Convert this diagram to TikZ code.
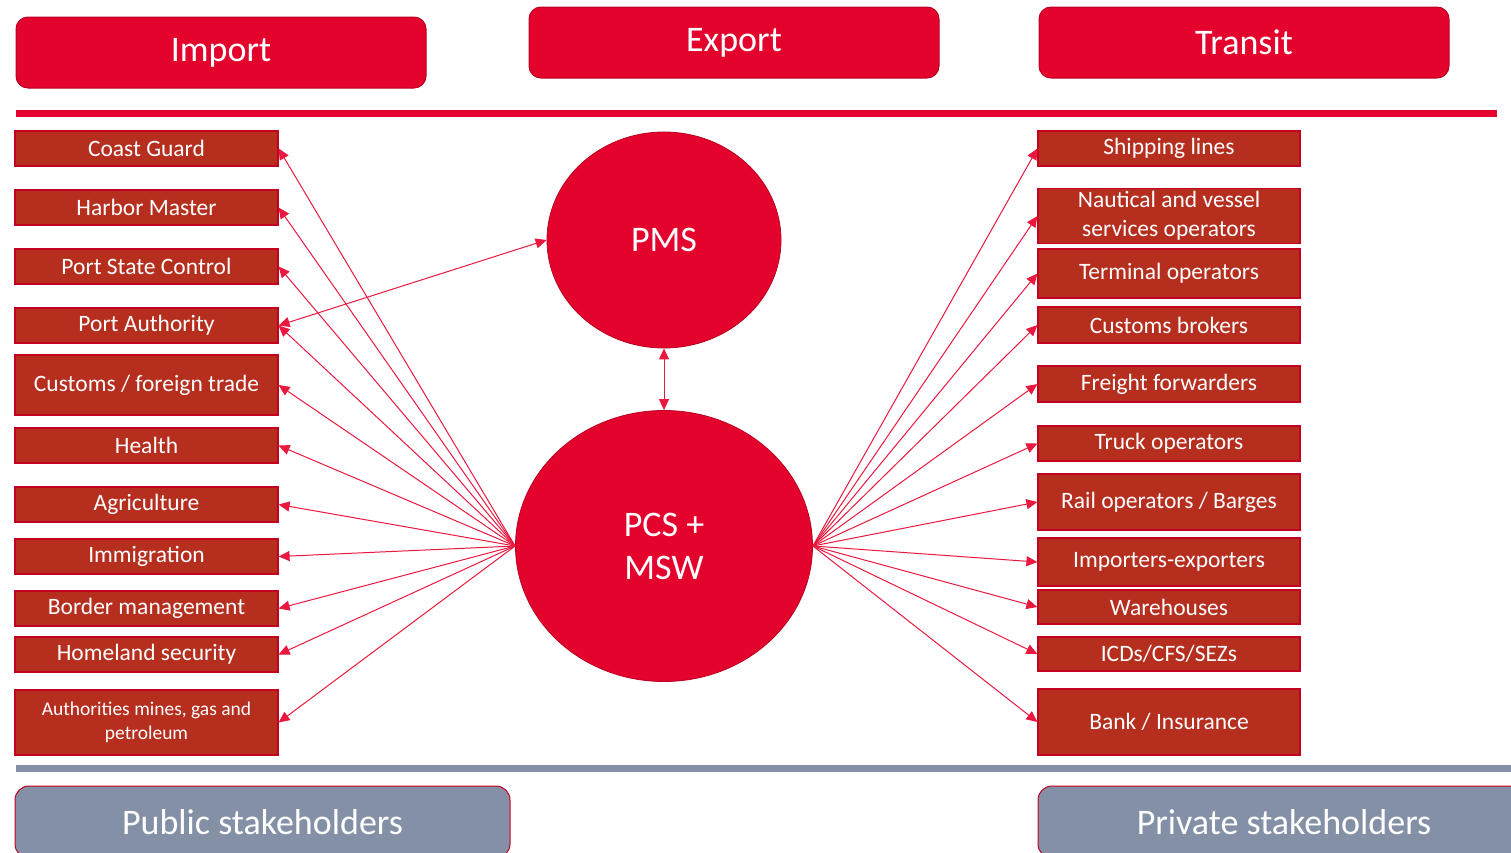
\documentclass[tikz,border=0pt]{standalone}
\usepackage{fontspec}
\setmainfont{Carlito}
\usetikzlibrary{arrows.meta, shapes.geometric}
\usepackage{xcolor}
\definecolor{hdrred}{RGB}{227,3,45}
\definecolor{hdrline}{RGB}{185,0,35}
\definecolor{boxfill}{RGB}{181,46,30}
\definecolor{boxline}{RGB}{195,0,32}
\definecolor{slate}{RGB}{132,144,166}
\definecolor{linkred}{RGB}{234,24,62}

\begin{document}
\begin{tikzpicture}[
  x=1pt, y=-1pt,
  header/.style={rectangle, draw=hdrline, line width=1pt, fill=hdrred, rounded corners=12pt, minimum width=410pt, minimum height=71pt, text=white, font=\fontsize{36}{43}\selectfont},
  stake/.style={rectangle, draw=boxline, line width=1pt, fill=slate, rounded corners=14pt, minimum height=72pt, text=white, font=\fontsize{36}{43}\selectfont},
  pubbox/.style={rectangle, draw=boxline, line width=1.2pt, fill=boxfill, minimum width=263pt, minimum height=35pt, text=white, align=center, font=\fontsize{23.5}{29}\selectfont},
  privbox/.style={pubbox, minimum width=262pt},
  hub/.style={ellipse, draw=hdrline, line width=0.8pt, fill=hdrred, text=white, align=center, font=\fontsize{36}{43}\selectfont},
  link/.style={draw=linkred, line width=1pt, -{Triangle[length=11pt,width=10pt]}},
  duplink/.style={link, {Triangle[length=11pt,width=10pt]}-{Triangle[length=11pt,width=10pt]}}
]
\useasboundingbox (0,0) rectangle (1511,852);

% Headers
\node[header] (import) at (221,52.5) {Import};
\node[header] (export) at (734,42.5) {Export};
\node[header] (transit) at (1244,42.5) {Transit};
\draw[hdrred, line width=7pt] (16,113) -- (1497,113);

% Hubs
\node[hub, minimum width=234pt, minimum height=216pt] (pms) at (664,240) {PMS};
\node[hub, minimum width=297pt, minimum height=271pt] (pcs) at (664,546) {PCS +\\MSW};

% Public side
\node[pubbox] (coast) at (146.5,148.5) {Coast Guard};
\node[pubbox] (harbor) at (146.5,207.5) {Harbor Master};
\node[pubbox] (psc) at (146.5,266.5) {Port State Control};
\node[pubbox] (authority) at (146.5,325.5) {Port Authority};
\node[pubbox, minimum height=60pt] (customs) at (146.5,385) {Customs / foreign trade};
\node[pubbox] (health) at (146.5,445.5) {Health};
\node[pubbox] (agri) at (146.5,504.5) {Agriculture};
\node[pubbox] (immig) at (146.5,556.5) {Immigration};
\node[pubbox] (border) at (146.5,608.5) {Border management};
\node[pubbox] (homeland) at (146.5,654.5) {Homeland security};
\node[pubbox, minimum height=65pt, font=\fontsize{19.5}{24}\selectfont] (mines) at (146.5,722.5) {Authorities mines, gas and\\petroleum};

% Private side
\node[privbox] (shipping) at (1169,148.5) {Shipping lines};
\node[privbox, minimum height=54pt] (nautical) at (1169,216) {Nautical and vessel\\services operators};
\node[privbox, minimum height=49pt] (terminal) at (1169,273.5) {Terminal operators};
\node[privbox, minimum height=36pt] (brokers) at (1169,325) {Customs brokers};
\node[privbox, minimum height=36pt] (freight) at (1169,384) {Freight forwarders};
\node[privbox] (truck) at (1169,443.5) {Truck operators};
\node[privbox, minimum height=56pt] (rail) at (1169,502) {Rail operators / Barges};
\node[privbox, minimum height=48pt] (impexp) at (1169,562) {Importers-exporters};
\node[privbox, minimum height=34pt] (warehouse) at (1169,607) {Warehouses};
\node[privbox, minimum height=34pt] (icd) at (1169,654) {ICDs/CFS/SEZs};
\node[privbox, minimum height=66pt] (bank) at (1169,722) {Bank / Insurance};

% Footer
\draw[slate, line width=7pt] (16,768) -- (1511,768);
\node[stake, minimum width=495pt] (public) at (262.5,822) {Public stakeholders};
\node[stake, minimum width=492pt] (private) at (1284,822) {Private stakeholders};

% Connections
\draw[duplink] (pms) -- (pcs);
\draw[duplink] (authority.east) -- (pms.west);
\draw[link] (pcs.west) -- (coast.east);
\draw[link] (pcs.west) -- (harbor.east);
\draw[link] (pcs.west) -- (psc.east);
\draw[link] (pcs.west) -- (authority.east);
\draw[link] (pcs.west) -- (customs.east);
\draw[link] (pcs.west) -- (health.east);
\draw[link] (pcs.west) -- (agri.east);
\draw[link] (pcs.west) -- (immig.east);
\draw[link] (pcs.west) -- (border.east);
\draw[link] (pcs.west) -- (homeland.east);
\draw[link] (pcs.west) -- (mines.east);
\draw[link] (pcs.east) -- (shipping.west);
\draw[link] (pcs.east) -- (nautical.west);
\draw[link] (pcs.east) -- (terminal.west);
\draw[link] (pcs.east) -- (brokers.west);
\draw[link] (pcs.east) -- (freight.west);
\draw[link] (pcs.east) -- (truck.west);
\draw[link] (pcs.east) -- (rail.west);
\draw[link] (pcs.east) -- (impexp.west);
\draw[link] (pcs.east) -- (warehouse.west);
\draw[link] (pcs.east) -- (icd.west);
\draw[link] (pcs.east) -- (bank.west);

\end{tikzpicture}
\end{document}
